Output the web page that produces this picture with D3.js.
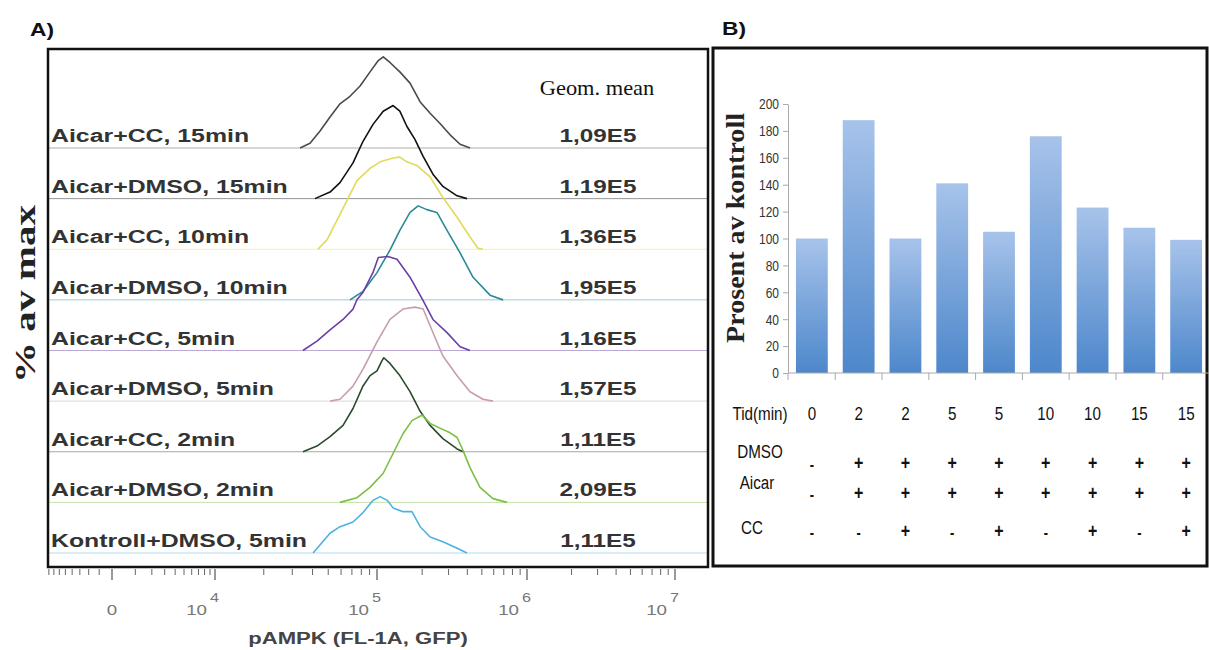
<!DOCTYPE html>
<html>
<head>
<meta charset="utf-8">
<script src="https://cdn.jsdelivr.net/npm/d3@7"></script>
<style>
  html, body { margin: 0; padding: 0; background: #fff; }
  svg { display: block; }
</style>
</head>
<body>
<div id="chart"></div>
<script>
// ---- panel A: flow histograms, [intensity, % av max]
const rowLabels = ['Aicar+CC, 15min', 'Aicar+DMSO, 15min', 'Aicar+CC, 10min', 'Aicar+DMSO, 10min',
  'Aicar+CC, 5min', 'Aicar+DMSO, 5min', 'Aicar+CC, 2min', 'Aicar+DMSO, 2min', 'Kontroll+DMSO, 5min'];

const geomMeans = ['1,09E5', '1,19E5', '1,36E5', '1,95E5', '1,16E5', '1,57E5', '1,11E5', '2,09E5', '1,11E5'];

const histCC15 = [[33.5e3, 0], [38.6e3, 5], [44.5e3, 18], [51.3e3, 33], [59.1e3, 47], [68.1e3, 55], [78.6e3, 66],
  [90.6e3, 81], [102e3, 93], [110e3, 97], [122e3, 91], [142e3, 81], [166e3, 69], [194e3, 49], [226e3, 37],
  [263e3, 26], [307e3, 14], [358e3, 4], [417e3, 0]];
const histDMSO15 = [[41.4e3, 0], [51.3e3, 7], [59.1e3, 17], [71.1e3, 38], [82.0e3, 61], [94.5e3, 79], [110e3, 93],
  [128e3, 99], [142e3, 93], [158e3, 77], [179e3, 63], [203e3, 45], [236e3, 26], [275e3, 13], [342e3, 3], [398e3, 0]];
const histCC10 = [[43.2e3, 0], [49.1e3, 10], [56.7e3, 31], [65.3e3, 52], [75.2e3, 73], [90.6e3, 86], [105e3, 93],
  [128e3, 97], [142e3, 98], [158e3, 93], [185e3, 89], [226e3, 77], [275e3, 55], [342e3, 34], [417e3, 13],
  [471e3, 1], [509e3, 0]];
const histDMSO10 = [[68.1e3, 0], [82.0e3, 9], [100e3, 29], [122e3, 53], [142e3, 74], [166e3, 93], [188e3, 100],
  [215e3, 96], [251e3, 93], [293e3, 74], [358e3, 50], [437e3, 24], [567e3, 5], [692e3, 0]];
const histCC5 = [[34.9e3, 0], [42.6e3, 10], [51.3e3, 22], [61.7e3, 33], [71.1e3, 44], [75.2e3, 54], [82.0e3, 62],
  [94.5e3, 83], [102e3, 99], [118e3, 100], [136e3, 97], [166e3, 78], [203e3, 53], [236e3, 33], [293e3, 19],
  [358e3, 4], [417e3, 0]];
const histDMSO5 = [[51.3e3, 0], [59.1e3, 2], [71.1e3, 16], [82.0e3, 34], [100e3, 63], [122e3, 87], [149e3, 98],
  [179e3, 100], [203e3, 98], [236e3, 73], [275e3, 48], [342e3, 27], [417e3, 10], [509e3, 2], [593e3, 0]];
const histCC2 = [[34.9e3, 0], [42.6e3, 6], [51.3e3, 16], [61.7e3, 28], [71.1e3, 46], [82.0e3, 70], [90.6e3, 81],
  [100e3, 86], [108e3, 97], [111e3, 100], [122e3, 94], [142e3, 81], [166e3, 64], [194e3, 43], [226e3, 28],
  [275e3, 14], [342e3, 3], [375e3, 0]];
const histDMSO2 = [[59.1e3, 0], [75.2e3, 5], [90.6e3, 16], [110e3, 31], [128e3, 52], [149e3, 73], [171e3, 87],
  [200e3, 93], [226e3, 84], [263e3, 79], [307e3, 74], [342e3, 69], [375e3, 55], [417e3, 37], [486e3, 16],
  [593e3, 4], [736e3, 0]];
const histKontroll = [[40.3e3, 0], [51.3e3, 21], [59.1e3, 28], [71.1e3, 33], [82.0e3, 43], [94.5e3, 56], [105e3, 60],
  [117e3, 56], [128e3, 48], [149e3, 44], [171e3, 44], [194e3, 28], [226e3, 17], [275e3, 12], [342e3, 5], [398e3, 0]];

const histograms = [histCC15, histDMSO15, histCC10, histDMSO10, histCC5, histDMSO5, histCC2, histDMSO2, histKontroll];

const majorTicksA = [0, 1e4, 1e5, 1e6, 1e7];

// ---- panel B: bars + treatment table
const barValues = [100, 188, 100, 141, 105, 176, 123, 108, 99];
const tidMin = ['0', '2', '2', '5', '5', '10', '10', '15', '15'];
const dmso = ['-', '+', '+', '+', '+', '+', '+', '+', '+'];
const aicar = ['-', '+', '+', '+', '+', '+', '+', '+', '+'];
const cc = ['-', '-', '+', '-', '+', '-', '+', '-', '+'];

// styles
const curveColors = ['#4a4a4a', '#111111', '#e2da5a', '#2a8a95', '#6a3fa6', '#c79eaa', '#2c4a2c', '#7cc042', '#4cb3e0'];

const width = 1209, height = 650;

const svg = d3.select('#chart').
  append('svg').
  attr('width', width).
  attr('height', height);

svg.append('rect').attr('width', width).attr('height', height).attr('fill', '#fff');

function stretched(parent, x, y, sx, str) {
  return parent.append('g').
    attr('transform', 'translate(' + x + ',' + y + ') scale(' + sx + ',1)').
    append('text').
    text(str);
}

// ================= panel A =================
const gA = svg.append('g');

// flow axis: linear-ish near 0, log above 10^4
const xLog = d3.scaleLog().domain([1e4, 1e5, 1e6, 1e7]).range([215, 377, 527, 675]);
const xLow = d3.scaleSymlog().constant(2000).domain([0, 1e4]).range([112, 215]);
const xA = function(v) { return v >= 1e4 ? xLog(v) : xLow(v); };

const yRow = d3.scalePoint().domain(d3.range(rowLabels.length)).range([148, 553]);
const hPct = d3.scaleLinear().domain([0, 100]).range([0, 94]);

stretched(gA, 30, 36, 1.2, 'A)').
  attr('font-family', 'Liberation Sans, Arial, sans-serif').
  attr('font-weight', 'bold').
  attr('font-size', 19).
  attr('fill', '#111');

// baselines
gA.selectAll('.baseline').
  data(rowLabels).
  enter().append('line').
    attr('class', 'baseline').
    attr('x1', 49).attr('x2', 707).
    attr('y1', function(d, i) { return yRow(i); }).
    attr('y2', function(d, i) { return yRow(i); }).
    attr('stroke', function(d, i) { return curveColors[i]; }).
    attr('stroke-opacity', 0.45).
    attr('stroke-width', 1);

// histograms
histograms.forEach(function(hist, i) {
  const base = yRow(i);
  const line = d3.line().
    x(function(d) { return xA(d[0]); }).
    y(function(d) { return base - hPct(d[1]); });
  gA.append('path').
    datum(hist).
    attr('d', line).
    attr('fill', 'none').
    attr('stroke', curveColors[i]).
    attr('stroke-width', 1.6).
    attr('stroke-linejoin', 'round');
});

// row labels and geometric means
rowLabels.forEach(function(label, i) {
  stretched(gA, 51, yRow(i) - 6, 1.38, label).
    attr('font-family', 'Liberation Sans, Arial, sans-serif').
    attr('font-weight', 'bold').
    attr('font-size', 18).
    attr('fill', '#333');
  stretched(gA, 598, yRow(i) - 6, 1.35, geomMeans[i]).
    attr('text-anchor', 'middle').
    attr('font-family', 'Liberation Sans, Arial, sans-serif').
    attr('font-weight', 'bold').
    attr('font-size', 18).
    attr('fill', '#333');
});

stretched(gA, 597, 95, 1.12, 'Geom. mean').
  attr('text-anchor', 'middle').
  attr('font-family', 'Liberation Serif, Times New Roman, serif').
  attr('font-size', 20).
  attr('fill', '#111');

// frame
gA.append('rect').
  attr('x', 48).attr('y', 49).
  attr('width', 660).attr('height', 518).
  attr('fill', 'none').
  attr('stroke', '#111').
  attr('stroke-width', 2.5);

// x ticks
const minorA = d3.range(-4000, 0, 500).concat(d3.range(1000, 10000, 1000));
[1e4, 1e5, 1e6].forEach(function(dec) {
  d3.range(2, 10).forEach(function(k) { minorA.push(k * dec); });
});

gA.selectAll('.minor').
  data(minorA).
  enter().append('line').
    attr('class', 'minor').
    attr('x1', function(d) { return xA(d); }).
    attr('x2', function(d) { return xA(d); }).
    attr('y1', 569).attr('y2', 575).
    attr('stroke', '#666').
    attr('stroke-width', 1);

gA.selectAll('.major').
  data(majorTicksA).
  enter().append('line').
    attr('class', 'major').
    attr('x1', function(d) { return xA(d); }).
    attr('x2', function(d) { return xA(d); }).
    attr('y1', 569).attr('y2', 580).
    attr('stroke', '#555').
    attr('stroke-width', 1.2);

majorTicksA.forEach(function(v) {
  const x = xA(v);
  if(v === 0) {
    stretched(gA, x, 615, 1.25, '0').
      attr('text-anchor', 'middle').
      attr('font-family', 'Liberation Sans, Arial, sans-serif').
      attr('font-size', 15).
      attr('fill', '#777');
  } else {
    stretched(gA, x - 8, 615, 1.25, '10').
      attr('text-anchor', 'end').
      attr('font-family', 'Liberation Sans, Arial, sans-serif').
      attr('font-size', 15).
      attr('fill', '#777');
    stretched(gA, x - 5, 602, 1.25, String(Math.round(Math.log10(v)))).
      attr('font-family', 'Liberation Sans, Arial, sans-serif').
      attr('font-size', 13).
      attr('fill', '#777');
  }
});

stretched(gA, 358, 644, 1.3, 'pAMPK (FL-1A, GFP)').
  attr('text-anchor', 'middle').
  attr('font-family', 'Liberation Sans, Arial, sans-serif').
  attr('font-weight', 'bold').
  attr('font-size', 17).
  attr('fill', '#444');

gA.append('text').
  attr('transform', 'translate(24,294) rotate(-90)').
  attr('text-anchor', 'middle').
  attr('dy', '0.35em').
  attr('font-family', 'Liberation Serif, Times New Roman, serif').
  attr('font-weight', 'bold').
  attr('font-size', 30).
  attr('textLength', 178).
  attr('lengthAdjust', 'spacingAndGlyphs').
  attr('fill', '#222').
  text('% av max');

// ================= panel B =================
const gB = svg.append('g');

stretched(gB, 722, 35, 1.2, 'B)').
  attr('font-family', 'Liberation Sans, Arial, sans-serif').
  attr('font-weight', 'bold').
  attr('font-size', 19).
  attr('fill', '#111');

gB.append('rect').
  attr('x', 713).attr('y', 48).
  attr('width', 494).attr('height', 518).
  attr('fill', 'none').
  attr('stroke', '#111').
  attr('stroke-width', 3);

const defs = svg.append('defs');
const grad = defs.append('linearGradient').
  attr('id', 'barGrad').
  attr('x1', 0).attr('y1', 0).attr('x2', 0).attr('y2', 1);
grad.append('stop').attr('offset', '0%').attr('stop-color', '#a7c3ea');
grad.append('stop').attr('offset', '100%').attr('stop-color', '#4d87cb');

const xB = d3.scaleBand().
  domain(d3.range(barValues.length)).
  range([788, 1210]).
  paddingInner(0.32).
  paddingOuter(0.17);

const yB = d3.scaleLinear().domain([0, 200]).range([373, 104]);

gB.selectAll('.bar').
  data(barValues).
  enter().append('rect').
    attr('class', 'bar').
    attr('x', function(d, i) { return xB(i); }).
    attr('y', function(d) { return yB(d); }).
    attr('width', xB.bandwidth()).
    attr('height', function(d) { return yB(0) - yB(d); }).
    attr('fill', 'url(#barGrad)');

const axisB = d3.axisLeft(yB).
  tickValues(d3.range(0, 201, 20)).
  tickSize(5).
  tickSizeOuter(0);

const gAxisB = gB.append('g').
  attr('transform', 'translate(788,0)').
  call(axisB);

gAxisB.select('.domain').attr('stroke', '#aaa');
gAxisB.selectAll('.tick line').attr('stroke', '#aaa');
gAxisB.selectAll('.tick text').
  attr('x', -9 / 0.8).
  attr('transform', 'scale(0.8,1)').
  attr('font-family', 'Liberation Sans, Arial, sans-serif').
  attr('font-size', 15).
  attr('fill', '#333');

// category axis with separators
const gapB = (xB.step() - xB.bandwidth()) / 2;
gB.append('line').
  attr('x1', 788).attr('x2', 1209).
  attr('y1', yB(0)).attr('y2', yB(0)).
  attr('stroke', '#aaa');
gB.selectAll('.sep').
  data(d3.range(barValues.length)).
  enter().append('line').
    attr('class', 'sep').
    attr('x1', function(d) { return d === 0 ? 788 : xB(d) - gapB; }).
    attr('x2', function(d) { return d === 0 ? 788 : xB(d) - gapB; }).
    attr('y1', yB(0)).attr('y2', yB(0) + 7).
    attr('stroke', '#aaa');

gB.append('text').
  attr('transform', 'translate(735,228) rotate(-90)').
  attr('text-anchor', 'middle').
  attr('dy', '0.35em').
  attr('font-family', 'Liberation Serif, Times New Roman, serif').
  attr('font-weight', 'bold').
  attr('font-size', 26).
  attr('textLength', 230).
  attr('lengthAdjust', 'spacingAndGlyphs').
  attr('fill', '#222').
  text('Prosent av kontroll');

// treatment table
const tableRows = [
  { label: 'Tid(min)', labelX: 760, labelY: 420, values: tidMin, valueY: 420, sign: false },
  { label: 'DMSO', labelX: 760, labelY: 458, values: dmso, valueY: 470, sign: true },
  { label: 'Aicar', labelX: 757, labelY: 489, values: aicar, valueY: 500, sign: true },
  { label: 'CC', labelX: 752, labelY: 534, values: cc, valueY: 538, sign: true }
];

tableRows.forEach(function(row) {
  stretched(gB, row.labelX, row.labelY, 0.8, row.label).
    attr('text-anchor', 'middle').
    attr('font-family', 'Liberation Sans, Arial, sans-serif').
    attr('font-size', 19).
    attr('fill', '#111');
  row.values.forEach(function(v, i) {
    stretched(gB, xB(i) + xB.bandwidth() / 2, row.valueY, 0.8, v).
      attr('text-anchor', 'middle').
      attr('font-family', 'Liberation Sans, Arial, sans-serif').
      attr('font-weight', row.sign ? 'bold' : 'normal').
      attr('font-size', row.sign ? (v === '+' ? 20 : 16) : 19).
      attr('fill', '#111');
  });
});
</script>
</body>
</html>
